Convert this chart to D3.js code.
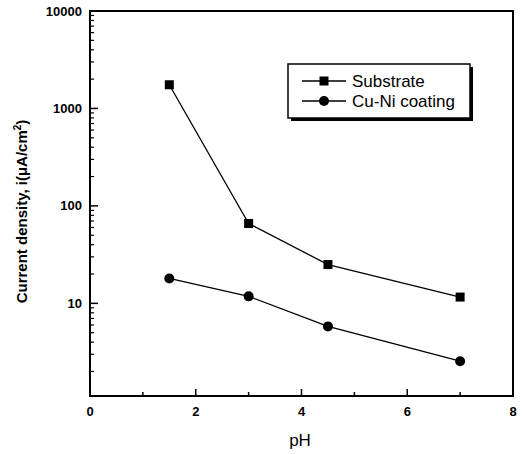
<!DOCTYPE html>
<html lang="en">
<head>
    <meta charset="UTF-8">
    <title>Current density vs pH</title>
    <script src="https://d3js.org/d3.v7.min.js"></script>
    <style>
        body {
            margin: 0;
            background: #fff;
        }
        svg text {
            font-family: 'Liberation Sans', Arial, sans-serif;
            fill: #000;
        }
        .tick-label {
            font-size: 13px;
            font-weight: bold;
        }
        .axis-title {
            font-size: 15px;
            font-weight: bold;
        }
        .x-title {
            font-size: 17px;
        }
        .legend-label {
            font-size: 17px;
        }
    </style>
</head>
<body>
    <div id="chart"></div>

    <script>
        // Data
        const pH = [1.5, 3, 4.5, 7];
        const substrate = [1750, 66, 25, 11.6];
        const coating = [18, 11.8, 5.8, 2.55];
        const xTicks = [0, 2, 4, 6, 8];
        const yTicks = [10, 100, 1000, 10000];

        const series = [
            { name: 'Substrate', values: substrate, shape: 'square' },
            { name: 'Cu-Ni coating', values: coating, shape: 'circle' }
        ];

        const width = 522, height = 454;
        const margin = { top: 11, right: 9, bottom: 58, left: 90 };

        const svg = d3.select('#chart').append('svg')
            .attr('width', width)
            .attr('height', height);

        const x = d3.scaleLinear()
            .domain([0, 8])
            .range([margin.left, width - margin.right]);

        const y = d3.scaleLog()
            .domain([1.12, 10000])
            .range([height - margin.bottom, margin.top]);

        // x ticks (inward), majors + minors
        const xMinor = d3.range(1, 8, 2);
        svg.selectAll('.xmajor').data(xTicks).enter().append('line')
            .attr('x1', d => x(d)).attr('x2', d => x(d))
            .attr('y1', y.range()[0]).attr('y2', y.range()[0] - 7)
            .attr('stroke', '#000').attr('stroke-width', 1.5);
        svg.selectAll('.xminor').data(xMinor).enter().append('line')
            .attr('x1', d => x(d)).attr('x2', d => x(d))
            .attr('y1', y.range()[0]).attr('y2', y.range()[0] - 4)
            .attr('stroke', '#000').attr('stroke-width', 1.5);
        svg.selectAll('.xlabel').data(xTicks).enter().append('text')
            .attr('class', 'tick-label')
            .attr('x', d => x(d))
            .attr('y', y.range()[0] + 20)
            .attr('text-anchor', 'middle')
            .text(d => d);

        // y ticks (inward): majors at decades, minors at 2..9
        const yMinor = [];
        [1, 10, 100, 1000].forEach(dec => {
            for (let k = 2; k <= 9; k++) {
                if (dec * k >= y.domain()[0]) yMinor.push(dec * k);
            }
        });
        svg.selectAll('.ymajor').data(yTicks).enter().append('line')
            .attr('x1', margin.left).attr('x2', margin.left + 8)
            .attr('y1', d => y(d)).attr('y2', d => y(d))
            .attr('stroke', '#000').attr('stroke-width', 1.5);
        svg.selectAll('.yminor').data(yMinor).enter().append('line')
            .attr('x1', margin.left).attr('x2', margin.left + 4)
            .attr('y1', d => y(d)).attr('y2', d => y(d))
            .attr('stroke', '#000').attr('stroke-width', 1.2);
        svg.selectAll('.ylabel').data(yTicks).enter().append('text')
            .attr('class', 'tick-label')
            .attr('x', margin.left - 8)
            .attr('y', d => y(d))
            .attr('dy', '0.35em')
            .attr('text-anchor', 'end')
            .text(d => d);

        // Frame
        svg.append('rect')
            .attr('x', margin.left)
            .attr('y', margin.top)
            .attr('width', width - margin.right - margin.left)
            .attr('height', height - margin.bottom - margin.top)
            .attr('fill', 'none')
            .attr('stroke', '#000')
            .attr('stroke-width', 2);

        // Axis titles
        svg.append('text')
            .attr('class', 'x-title')
            .attr('x', 300)
            .attr('y', 446)
            .attr('text-anchor', 'middle')
            .text('pH');

        const yTitle = svg.append('text')
            .attr('class', 'axis-title')
            .attr('transform', `translate(27, ${(y.range()[0] + y.range()[1]) / 2 + 8}) rotate(-90)`)
            .attr('text-anchor', 'middle');
        yTitle.append('tspan').text('Current density, i(\u03bcA/cm');
        yTitle.append('tspan').attr('dy', -6).attr('font-size', 10).text('2');
        yTitle.append('tspan').attr('dy', 6).text(')');

        // Lines and markers
        const line = d3.line()
            .x((d, i) => x(pH[i]))
            .y(d => y(d));

        function drawMarker(g, shape, cx, cy) {
            if (shape === 'square') {
                g.append('rect')
                    .attr('x', cx - 4.5).attr('y', cy - 4.5)
                    .attr('width', 9).attr('height', 9)
                    .attr('fill', '#000');
            } else {
                g.append('circle')
                    .attr('cx', cx).attr('cy', cy)
                    .attr('r', 5)
                    .attr('fill', '#000');
            }
        }

        series.forEach(s => {
            svg.append('path')
                .attr('d', line(s.values))
                .attr('fill', 'none')
                .attr('stroke', '#000')
                .attr('stroke-width', 1.3);
            const g = svg.append('g');
            s.values.forEach((v, i) => drawMarker(g, s.shape, x(pH[i]), y(v)));
        });

        // Legend with drop shadow
        const legend = svg.append('g').attr('transform', 'translate(288, 64)');
        legend.append('rect')
            .attr('x', 3).attr('y', 3)
            .attr('width', 182).attr('height', 54)
            .attr('fill', '#000');
        legend.append('rect')
            .attr('width', 182).attr('height', 54)
            .attr('fill', '#fff')
            .attr('stroke', '#000')
            .attr('stroke-width', 1.5);

        series.forEach((s, i) => {
            const ly = 17 + i * 20;
            legend.append('line')
                .attr('x1', 14).attr('x2', 58)
                .attr('y1', ly).attr('y2', ly)
                .attr('stroke', '#000').attr('stroke-width', 1.3);
            drawMarker(legend, s.shape, 36, ly);
            legend.append('text')
                .attr('class', 'legend-label')
                .attr('x', 64)
                .attr('y', ly)
                .attr('dy', '0.35em')
                .text(s.name);
        });
    </script>
</body>
</html>
